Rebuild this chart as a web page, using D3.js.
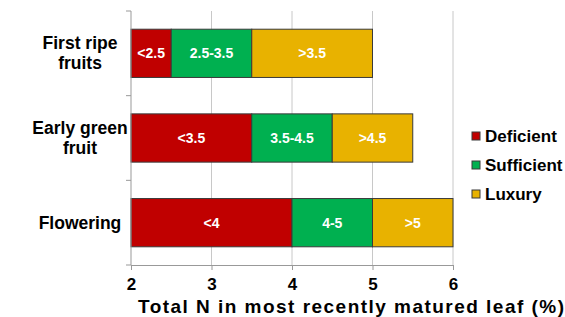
<!DOCTYPE html>
<html>
<head>
<meta charset="utf-8">
<script src="https://cdn.jsdelivr.net/npm/d3@7"></script>
<style>
body { margin: 0; background: #fff; }
text { font-family: "Liberation Sans", Arial, sans-serif; font-weight: bold; }
</style>
</head>
<body>
<div id="vizDiv"></div>
<script>
var width = 565, height = 317

// data
var categories = ["First ripe fruits", "Early green fruit", "Flowering"]
var categoryLines = [["First ripe", "fruits"], ["Early green", "fruit"], ["Flowering"]]
var seriesNames = ["Deficient", "Sufficient", "Luxury"]
var seriesColors = ["#c00000", "#00b050", "#e8b200"]
var starts = [2, 2, 2]
var deficient = [0.5, 1.5, 2]
var sufficient = [1, 1, 1]
var luxury = [1.5, 1, 1]
var segLabels = [["<2.5", "2.5-3.5", ">3.5"], ["<3.5", "3.5-4.5", ">4.5"], ["<4", "4-5", ">5"]]
var xTicks = [2, 3, 4, 5, 6]
var xTitle = "Total N in most recently matured leaf (%)"

var plotLeft = 131, plotRight = 453, plotTop = 11, plotBottom = 265

var svg = d3.select("#vizDiv").append("svg")
    .attr("width", width).attr("height", height)

var x = d3.scaleLinear().domain([2, 6]).range([plotLeft, plotRight])
var y = d3.scaleBand().domain(categories).range([plotTop, plotBottom]).paddingInner(0.43).paddingOuter(0.215)

// gridlines
svg.append("g").selectAll("line").data(xTicks.slice(1)).enter().append("line")
    .attr("x1", function(d) { return x(d) }).attr("x2", function(d) { return x(d) })
    .attr("y1", plotTop).attr("y2", plotBottom)
    .attr("stroke", "#c8c8c8").attr("stroke-width", 1)

// stacked segments
var series = [deficient, sufficient, luxury]
categories.forEach(function(cat, i) {
    var acc = starts[i]
    series.forEach(function(s, j) {
        var x0 = acc, x1 = acc + s[i]
        acc = x1
        svg.append("rect")
            .attr("x", x(x0)).attr("y", y(cat))
            .attr("width", x(x1) - x(x0)).attr("height", y.bandwidth())
            .attr("fill", seriesColors[j])
            .attr("stroke", "#3a3a3a").attr("stroke-width", 1)
        svg.append("text")
            .attr("x", (x(x0) + x(x1)) / 2)
            .attr("y", y(cat) + y.bandwidth() / 2)
            .attr("dy", "0.35em")
            .attr("text-anchor", "middle")
            .attr("fill", "white")
            .style("font-size", "14px")
            .text(segLabels[i][j])
    })
})

// y axis
var yAxisTicks = [0, 1, 2, 3].map(function(k) { return plotTop + k * (plotBottom - plotTop) / 3 })
svg.append("line").attr("x1", plotLeft).attr("x2", plotLeft)
    .attr("y1", plotTop).attr("y2", plotBottom).attr("stroke", "#999")
svg.append("g").selectAll("line").data(yAxisTicks).enter().append("line")
    .attr("x1", plotLeft - 5).attr("x2", plotLeft)
    .attr("y1", function(d) { return d }).attr("y2", function(d) { return d })
    .attr("stroke", "#999")

// x axis
var xAxis = svg.append("g").attr("transform", "translate(0," + plotBottom + ")")
    .call(d3.axisBottom(x).tickValues(xTicks).tickSize(5).tickPadding(8).tickFormat(d3.format("d")))
xAxis.select(".domain").attr("stroke", "#999")
xAxis.selectAll(".tick line").attr("stroke", "#999")
xAxis.selectAll(".tick text").attr("fill", "#000").style("font-size", "17px")
    .style("font-family", "'Liberation Sans', Arial, sans-serif").style("font-weight", "bold")

svg.append("text").attr("x", 138).attr("y", 313).attr("text-anchor", "start")
    .attr("textLength", 426).attr("lengthAdjust", "spacing")
    .style("font-size", "19px").text(xTitle)

// category labels
categories.forEach(function(cat, i) {
    var lines = categoryLines[i]
    var cy = y(cat) + y.bandwidth() / 2
    lines.forEach(function(l, k) {
        svg.append("text")
            .attr("x", 80)
            .attr("y", cy + (k - (lines.length - 1) / 2) * 20)
            .attr("dy", "0.35em")
            .attr("text-anchor", "middle")
            .style("font-size", "17.5px")
            .text(l)
    })
})

// legend
seriesNames.forEach(function(name, j) {
    var ly = 136 + j * 29
    svg.append("rect").attr("x", 472).attr("y", ly - 4).attr("width", 8).attr("height", 8)
        .attr("fill", seriesColors[j]).attr("stroke", "#3a3a3a").attr("stroke-width", 1)
    svg.append("text").attr("x", 485).attr("y", ly).attr("dy", "0.35em")
        .style("font-size", "17px").text(name)
})
</script>
</body>
</html>
